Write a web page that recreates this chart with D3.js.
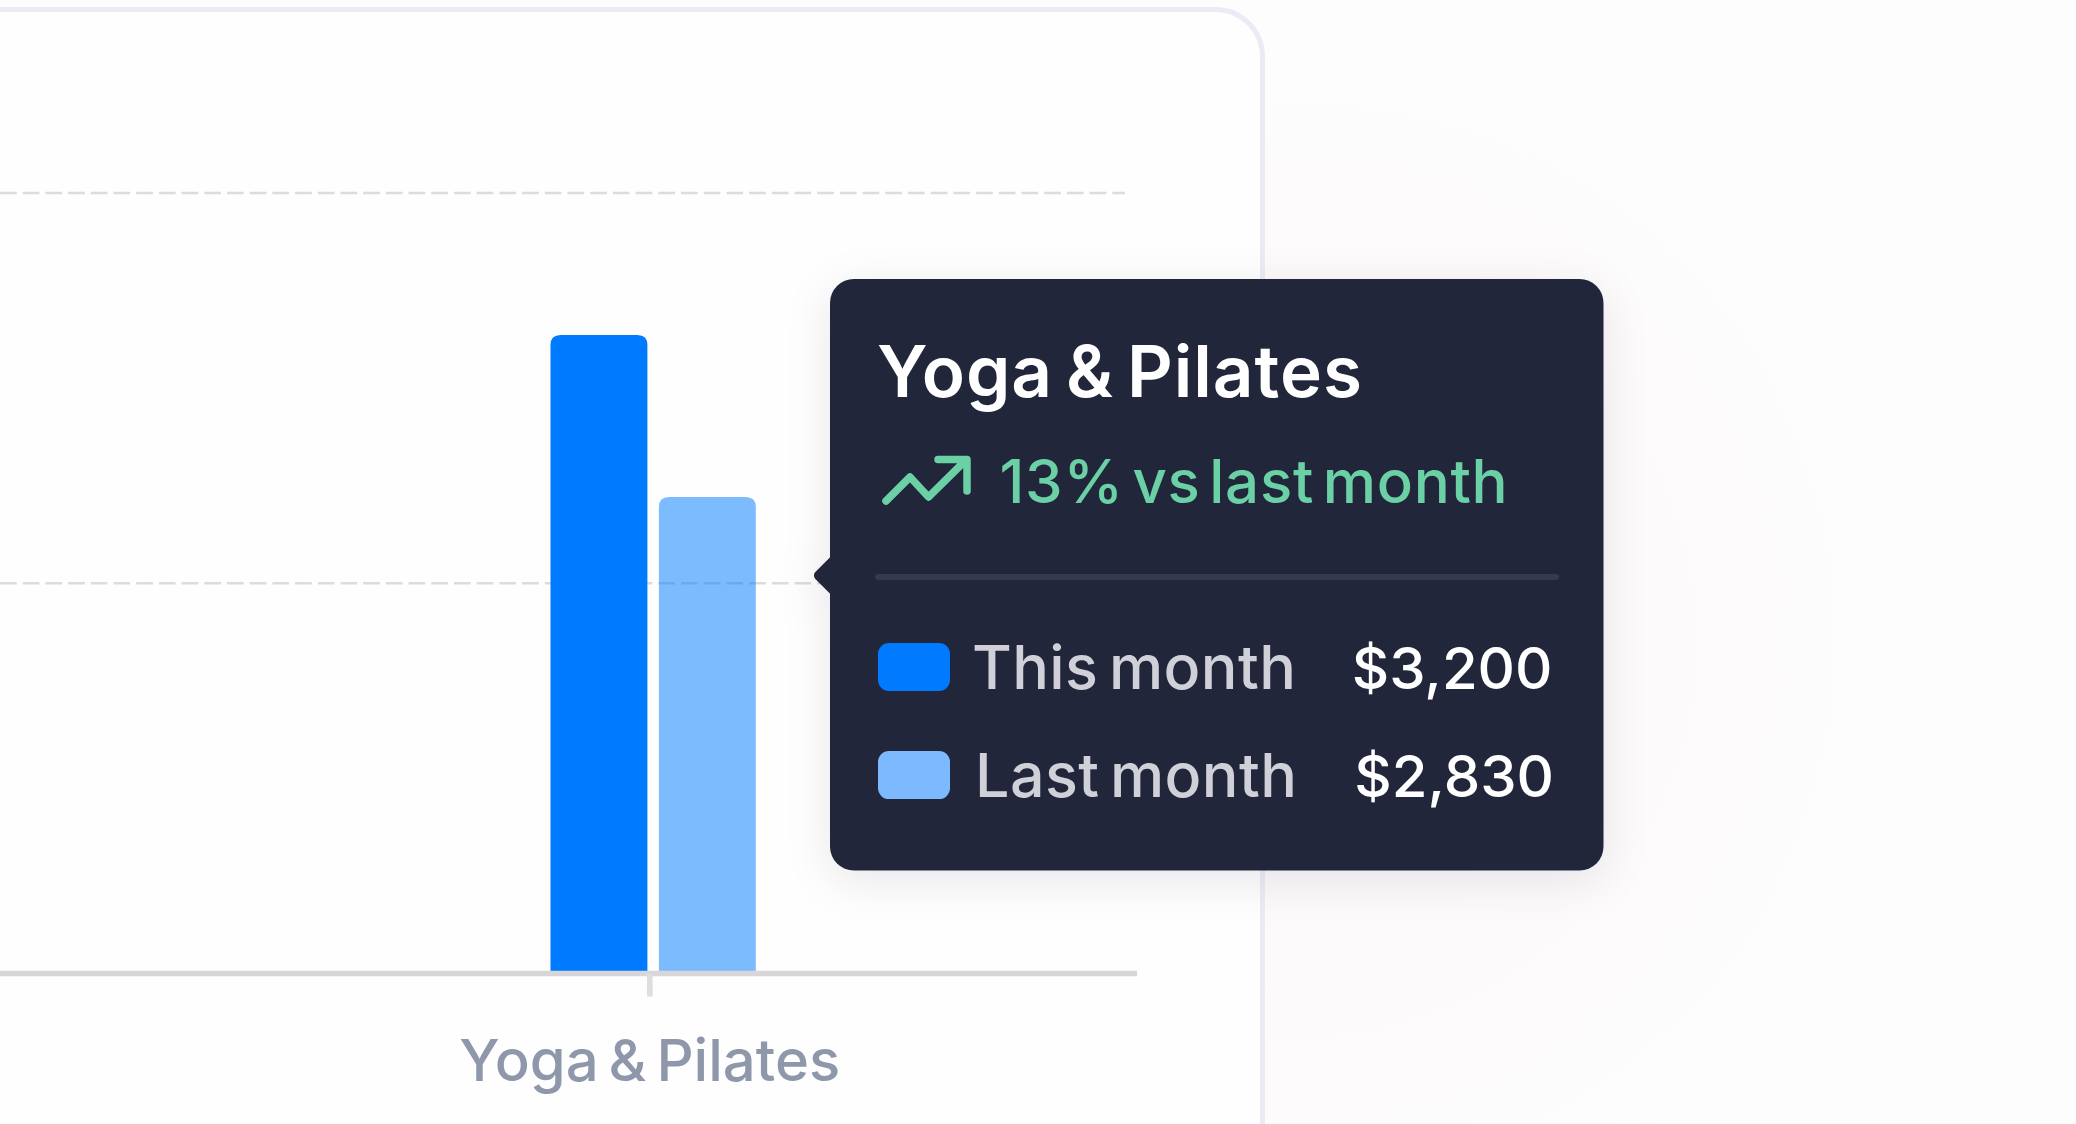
<!DOCTYPE html>
<html lang="en">
  <head>
    <meta charset="UTF-8" />
    <title>Yoga &amp; Pilates, this month vs last month</title>
    <script src="https://cdnjs.cloudflare.com/ajax/libs/d3/7.9.0/d3.min.js"></script>
    <style>
      html,
      body {
        margin: 0;
        height: 100%;
        overflow: hidden;
        background: #fefdfd;
      }
      svg {
        display: block;
        font-family: Inter, "Noto Sans", sans-serif;
      }
    </style>
  </head>
  <body>
    <svg id="svg" width="2076" height="1124"></svg>

    <script>
      /* --------------------- Data --------------------- */
      const categories = ["Yoga & Pilates"];
      const seriesNames = ["This month", "Last month"];
      const thisMonth = [3200];
      const lastMonth = [2830];
      const seriesColors = ["#007aff", "#007aff"];
      const seriesOpacity = [1, 0.51];
      const swatchColors = ["#007aff", "#7db9ff"];
      const gridTicks = [2633, 3524];
      const changeLabel = "13% vs last month";

      /* --------------------- Scales --------------------- */
      const width = 2076;
      const height = 1124;
      const baseY = 973.5;

      const x = d3
        .scaleBand()
        .domain(categories)
        .range([0, 1137])
        .paddingInner(0)
        .paddingOuter(0.5)
        .align(0.643);

      const y = d3.scaleLinear().domain([1742, 3524]).range([baseY, 193]);

      const center = x(categories[0]) + x.bandwidth() / 2;
      const xSeries = d3
        .scaleBand()
        .domain(seriesNames)
        .range([center - 99.3, center + 106])
        .paddingInner(0.106);

      const svg = d3.select("#svg");
      const defs = svg.append("defs");

      // faint tint of the page behind the card
      const glow = defs
        .append("radialGradient")
        .attr("id", "glow")
        .attr("gradientUnits", "userSpaceOnUse")
        .attr("cx", 1300)
        .attr("cy", 640)
        .attr("r", 620);
      glow.append("stop").attr("offset", 0).attr("stop-color", "#fcf9fa");
      glow.append("stop").attr("offset", 0.6).attr("stop-color", "#fcfafb");
      glow.append("stop").attr("offset", 1).attr("stop-color", "#fefdfe");

      const shadow = defs
        .append("filter")
        .attr("id", "shadow")
        .attr("x", "-20%")
        .attr("y", "-20%")
        .attr("width", "140%")
        .attr("height", "140%");
      shadow
        .append("feDropShadow")
        .attr("dx", 0)
        .attr("dy", 10)
        .attr("stdDeviation", 22)
        .attr("flood-color", "#21263a")
        .attr("flood-opacity", 0.09);

      svg
        .append("rect")
        .attr("width", width)
        .attr("height", height)
        .attr("fill", "url(#glow)");

      /* --------------------- Card --------------------- */
      svg
        .append("rect")
        .attr("x", -100)
        .attr("y", 9.5)
        .attr("width", 1362.5)
        .attr("height", 1400)
        .attr("rx", 47)
        .attr("fill", "#fefefe")
        .attr("stroke", "#ebebf5")
        .attr("stroke-width", 5);

      /* --------------------- Grid --------------------- */
      svg
        .append("g")
        .selectAll("line")
        .data(gridTicks)
        .join("line")
        .attr("x1", 0)
        .attr("x2", 1125)
        .attr("y1", (d) => y(d))
        .attr("y2", (d) => y(d))
        .attr("stroke", "#dcdbdd")
        .attr("stroke-width", 2.6)
        .attr("stroke-dasharray", "16.7 6");

      /* --------------------- Bars --------------------- */
      const rows = seriesNames.map((name, i) => ({
        name,
        value: [thisMonth, lastMonth][i][0],
        color: seriesColors[i],
        opacity: seriesOpacity[i],
      }));

      const r = 10;
      svg
        .append("g")
        .selectAll("path")
        .data(rows)
        .join("path")
        .attr("fill", (d) => d.color)
        .attr("fill-opacity", (d) => d.opacity)
        .attr("d", (d) => {
          const x0 = xSeries(d.name);
          const x1 = x0 + xSeries.bandwidth();
          const top = y(d.value);
          return `M${x0},${baseY}V${top + r}Q${x0},${top} ${x0 + r},${top}H${x1 - r}Q${x1},${top} ${x1},${top + r}V${baseY}Z`;
        });

      /* --------------------- Axis --------------------- */
      const axis = svg
        .append("g")
        .attr("transform", `translate(0,${baseY})`)
        .call(
          d3.axisBottom(x).tickSizeInner(23).tickSizeOuter(0).tickPadding(43).offset(0)
        );
      axis.select(".domain").attr("stroke", "#d8d6d9").attr("stroke-width", 5.7);
      axis.selectAll(".tick line").attr("stroke", "#dedddf").attr("stroke-width", 5.7);
      axis
        .selectAll(".tick text")
        .attr("font-family", "Inter, sans-serif")
        .attr("font-size", 58)
        .attr("font-weight", 500)
        .attr("word-spacing", -5.5)
        .attr("fill", "#8f98ab");

      /* --------------------- Tooltip --------------------- */
      const tip = svg.append("g");
      const tipBody = tip.append("g").attr("filter", "url(#shadow)");
      tipBody
        .append("rect")
        .attr("x", 830)
        .attr("y", 279)
        .attr("width", 773.5)
        .attr("height", 591.5)
        .attr("rx", 24)
        .attr("fill", "#21263a");
      // pointer
      tipBody
        .append("rect")
        .attr("x", -13)
        .attr("y", -13)
        .attr("width", 26)
        .attr("height", 26)
        .attr("rx", 4)
        .attr("fill", "#21263a")
        .attr("transform", "translate(834,575.5) rotate(45) scale(1.2)");

      tip
        .append("text")
        .attr("x", 877)
        .attr("y", 396.5)
        .attr("font-size", 71)
        .attr("font-weight", 600)
        .attr("letter-spacing", 1)
        .attr("word-spacing", -6)
        .attr("fill", "#ffffff")
        .text(categories[0]);

      // trend icon
      tip
        .append("path")
        .attr(
          "d",
          "M886,501L910,477L928.5,497L966,460M938,459.5H967V491"
        )
        .attr("fill", "none")
        .attr("stroke", "#6bd0a5")
        .attr("stroke-width", 7.5)
        .attr("stroke-linecap", "round")
        .attr("stroke-linejoin", "round");

      tip
        .append("text")
        .attr("x", 999.5)
        .attr("y", 502.5)
        .attr("font-size", 60)
        .attr("font-weight", 500)
        .attr("letter-spacing", 0.7)
        .attr("word-spacing", -8)
        .attr("fill", "#6bd0a5")
        .text(changeLabel);

      tip
        .append("line")
        .attr("x1", 878)
        .attr("x2", 1556)
        .attr("y1", 577)
        .attr("y2", 577)
        .attr("stroke", "#353a4f")
        .attr("stroke-width", 6)
        .attr("stroke-linecap", "round");

      const rowY = d3.scalePoint().domain(seriesNames).range([688.7, 796.8]);
      const money = d3.format("$,");

      const legend = tip
        .append("g")
        .selectAll("g")
        .data(rows)
        .join("g")
        .attr("transform", (d) => `translate(0,${rowY(d.name)})`);

      legend
        .append("rect")
        .attr("x", 878)
        .attr("y", -45.7)
        .attr("width", 72)
        .attr("height", 48)
        .attr("rx", 11)
        .attr("fill", (d, i) => swatchColors[i]);

      legend
        .append("text")
        .attr("x", (d, i) => (i ? 975 : 972))
        .attr("font-size", 61)
        .attr("font-weight", 500)
        .attr("letter-spacing", 0.4)
        .attr("word-spacing", -6)
        .attr("fill", "#d0d0d8")
        .text((d) => d.name);

      legend
        .append("text")
        .attr("x", (d, i) => (i ? 1554 : 1552.5))
        .attr("text-anchor", "end")
        .attr("font-size", 58)
        .attr("font-weight", 500)
        .attr("fill", "#ffffff")
        .text((d) => money(d.value));
    </script>
  </body>
</html>
